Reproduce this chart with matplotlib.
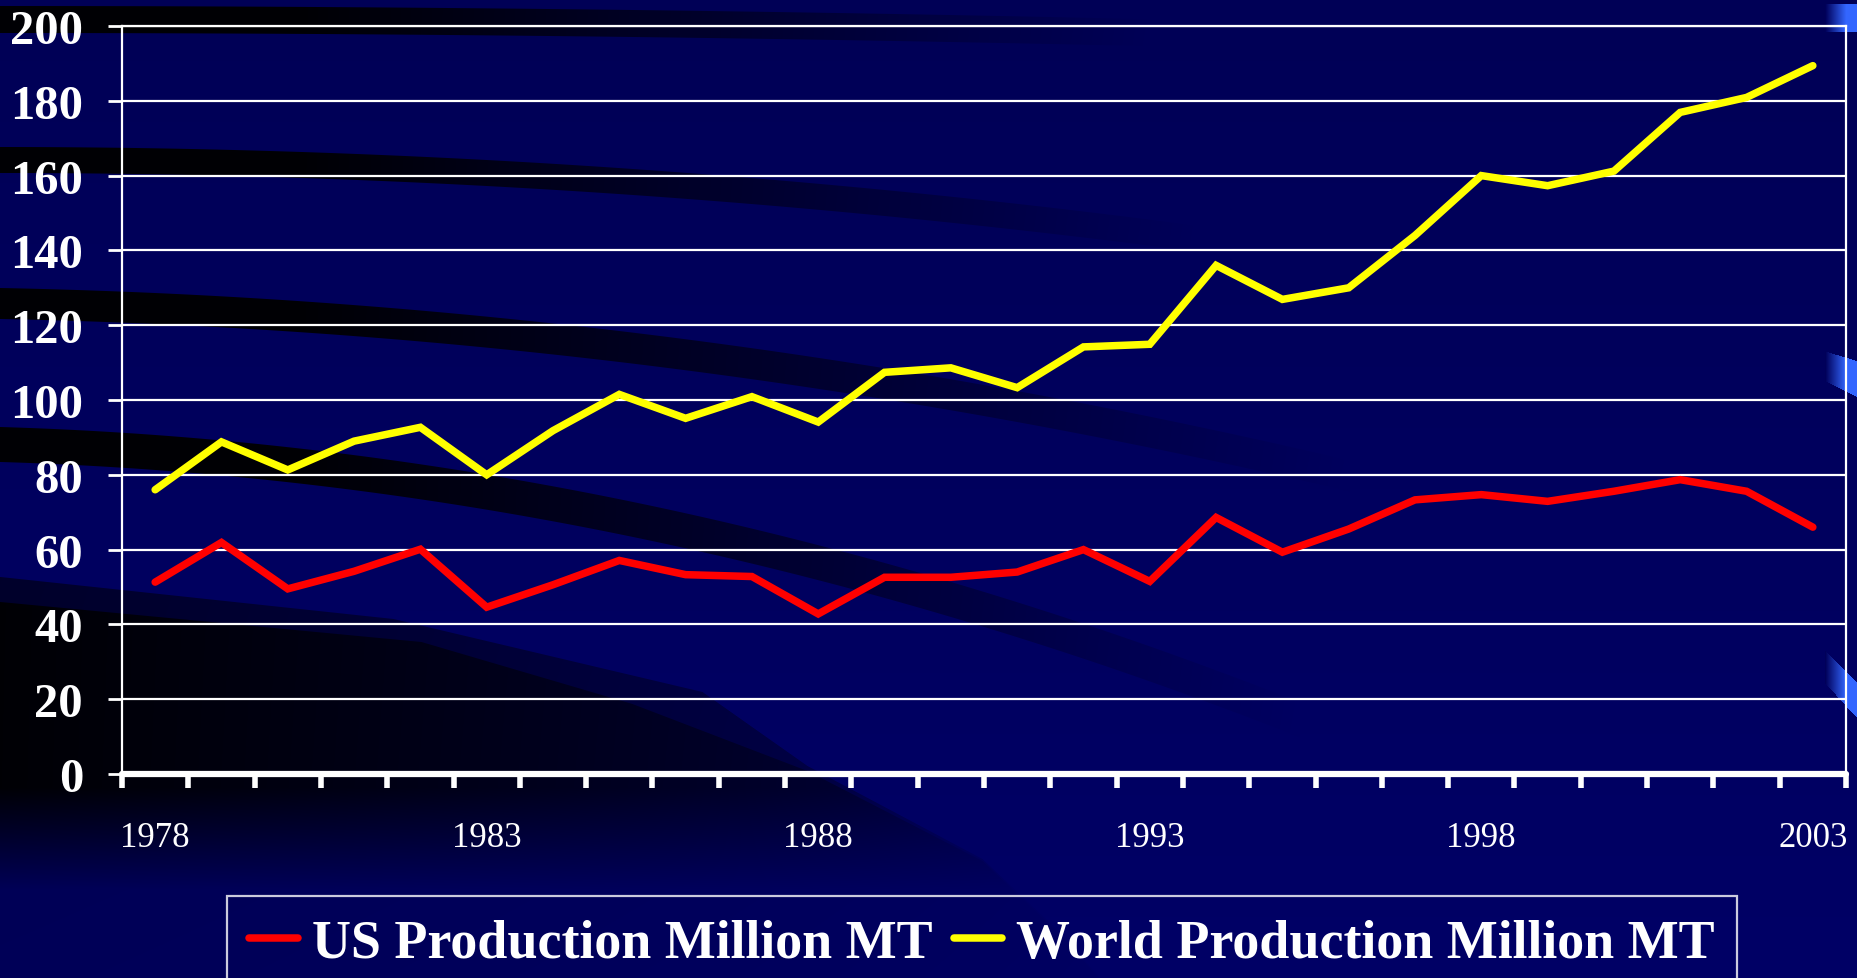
import numpy as np
import matplotlib
matplotlib.use("Agg")
import matplotlib.pyplot as plt
from matplotlib.lines import Line2D

# ---------------- data ----------------
years = list(range(1978, 2004))
us_production = [51.3, 61.9, 49.5, 54.2, 60.1, 44.6, 50.6, 57.1, 53.3, 52.8,
                 42.8, 52.6, 52.6, 54.0, 60.0, 51.5, 68.6, 59.3, 65.5, 73.3,
                 74.7, 72.9, 75.6, 78.7, 75.6, 66.0]
world_production = [76.0, 88.8, 81.3, 89.0, 92.7, 80.0, 91.8, 101.5, 95.1, 100.9,
                    94.1, 107.4, 108.6, 103.3, 114.2, 114.9, 136.0, 126.9, 130.0, 144.0,
                    160.0, 157.3, 161.2, 176.9, 180.9, 189.4]
y_ticks = [0, 20, 40, 60, 80, 100, 120, 140, 160, 180, 200]
x_label_years = [1978, 1983, 1988, 1993, 1998, 2003]
series_names = ["US Production Million MT", "World Production Million MT"]

# ---------------- figure ----------------
W, H = 1858, 979
fig = plt.figure(figsize=(W / 100, H / 100), dpi=100)

# decorative background (navy with dark swooshes)
yy, xx = np.mgrid[0:H, 0:W].astype(float)
base_b = 86 + 16 * (yy / H)
dark = np.zeros((H, W))

def band(center, half, x0, x1, strength):
    c = center(xx)
    edge = np.clip(half + 1.0 - np.abs(yy - c), 0, 1)
    fade = np.clip((x1 - xx) / (x1 - x0), 0, 1)
    return edge * fade * strength

dark = np.maximum(dark, band(lambda x: 20 + 0.00001 * x ** 2, 13, 300, 1150, 0.95))
dark = np.maximum(dark, band(lambda x: 160.5 + 5.5e-5 * x ** 2, 12.5, 300, 1200, 0.95))
dark = np.maximum(dark, band(lambda x: 304 + 0.02 * x + 0.00008 * x ** 2, 15, 300, 1350, 0.95))
dark = np.maximum(dark, band(lambda x: 445 + 0.03 * x + 0.00014 * x ** 2, 17, 300, 1300, 0.95))

# big dark region lower-left (outer softer band + inner dark area)
ox = [0, 393, 702, 807, 982, 1053, 1110]
oy = [578, 620, 693, 767, 860, 927, 990]
ix = [0, 421, 632, 807, 982, 1053, 1110]
iy = [603, 643, 705, 772, 862, 929, 992]
outer = np.clip(yy - np.interp(xx, ox, oy) + 1, 0, 1)
inner = np.clip(yy - np.interp(xx, ix, iy) + 1, 0, 1)
fadex = np.clip((1200 - xx) / 1200, 0, 1) ** 0.5
fadey = np.clip((890 - yy) / 120, 0, 1)
region = (0.55 * outer + 0.4 * inner) * fadex * np.minimum(1, 0.15 + fadey)
dark = np.maximum(dark, region)

img = np.zeros((H, W, 3))
img[..., 2] = base_b * (1 - dark) / 255.0

# blue accents at right edge
def accent(ytl, ytr, ybl, ybr):
    xs0, xs1 = 1825, W
    t = np.clip((xx - xs0) / (xs1 - xs0), 0, 1)
    top = ytl + (ytr - ytl) * t
    bot = ybl + (ybr - ybl) * t
    m = (xx >= xs0) & (yy >= top) & (yy <= bot)
    tt = np.clip(t * 1.6, 0, 1)[m]
    img[..., 0][m] = 0.2 * tt
    img[..., 1][m] = 0.4 * tt
    img[..., 2][m] = 0.35 * (1 - tt) + 1.0 * tt

accent(5, 5, 32, 32)
accent(352, 362, 382, 398)
accent(652, 684, 684, 720)

bg = fig.add_axes([0, 0, 1, 1], zorder=-10)
bg.imshow(img, aspect="auto", extent=(0, W, H, 0), interpolation="bilinear")
bg.set_axis_off()

# ---------------- main axes ----------------
left, right, top, bottom = 122, 1846, 27, 775
ax = fig.add_axes([left / W, 1 - bottom / H, (right - left) / W, (bottom - top) / H])
ax.set_facecolor("none")

n = len(years)
xpos = np.arange(n) + 0.5
ax.plot(xpos, us_production, color="#FF0000", lw=5.4, solid_capstyle="round",
        solid_joinstyle="miter", zorder=5, label=series_names[0])
ax.plot(xpos, world_production, color="#FFFF00", lw=5.4, solid_capstyle="round",
        solid_joinstyle="miter", zorder=5, label=series_names[1])

ax.set_xlim(0, n)
ax.set_ylim(0, 200)

serif = ["Liberation Serif", "DejaVu Serif"]

# y axis
ax.set_yticks(y_ticks)
ax.set_yticklabels([str(v) for v in y_ticks], fontfamily=serif, fontweight="bold",
                   fontsize=35, color="white")
ax.tick_params(axis="y", direction="out", length=10, width=2, color="white", pad=18)
ax.yaxis.grid(True, color="white", lw=1.6)
ax.set_axisbelow(True)

# x axis: major ticks at category boundaries, labels at category centres
ax.set_xticks(np.arange(n + 1))
ax.set_xticklabels([])
ax.tick_params(axis="x", which="major", direction="out", length=10, width=4,
               color="white")
for tl in ax.xaxis.get_ticklines():
    tl.set_solid_capstyle("round")
lab_pos = [years.index(y) + 0.5 for y in x_label_years]
ax.set_xticks(lab_pos, minor=True)
ax.set_xticklabels([str(y) for y in x_label_years], minor=True, fontfamily=serif,
                   fontsize=25, color="white")
ax.tick_params(axis="x", which="minor", length=0, pad=34)

for s in ["left", "right", "top"]:
    ax.spines[s].set_color("white")
    ax.spines[s].set_linewidth(1.6)
ax.spines["bottom"].set_color("white")
ax.spines["bottom"].set_linewidth(4.5)
ax.spines["bottom"].set_capstyle("round")

# legend
handles = [Line2D([0], [0], color="#FF0000", lw=5.4, solid_capstyle="round"),
           Line2D([0], [0], color="#FFFF00", lw=5.4, solid_capstyle="round")]
leg = fig.legend(handles, series_names, loc="upper center",
                 bbox_to_anchor=(982 / W, 1 - 897 / H), ncol=2, frameon=True,
                 prop={"family": serif, "weight": "bold", "size": 38.9},
                 handlelength=0.9, handletextpad=0.25, columnspacing=0.4,
                 borderpad=0.42, borderaxespad=0)
leg.get_frame().set_facecolor("none")
leg.get_frame().set_edgecolor("white")
leg.get_frame().set_linewidth(1.6)
leg.get_frame().set_boxstyle("square", pad=0)
for t in leg.get_texts():
    t.set_color("white")

fig.savefig("out.png", dpi=100)
